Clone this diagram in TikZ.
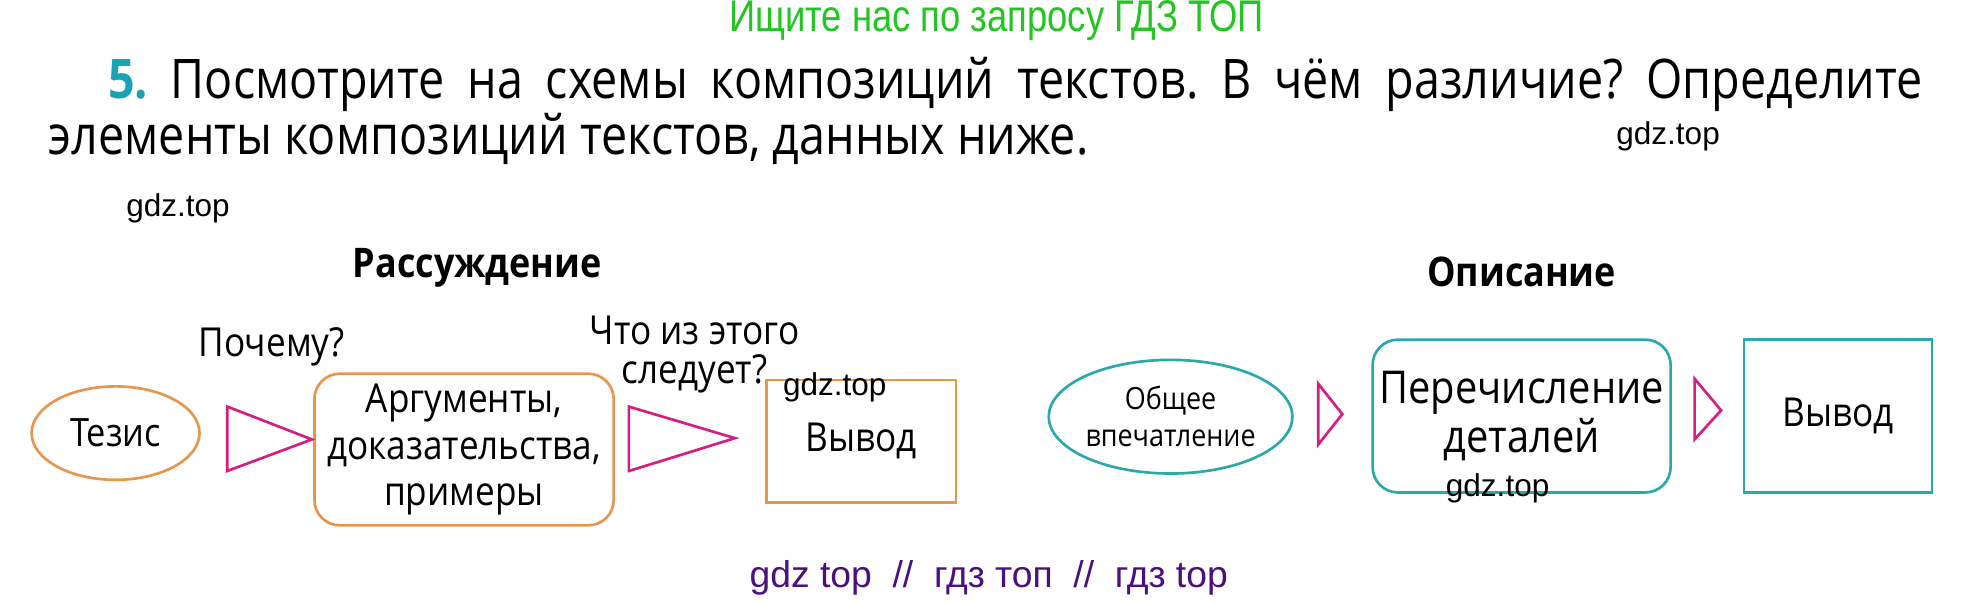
\documentclass[tikz,border=0pt]{standalone}
\usepackage{fontspec}
\setmainfont{Open Sans}[FakeStretch=0.88]
\newfontfamily\taskfont{Open Sans}[FakeStretch=0.855]
\newfontfamily\wmfont{Liberation Sans}
\newfontfamily\hdrfont{Liberation Sans}[FakeStretch=0.82]
\usetikzlibrary{shapes.geometric}

\definecolor{orng}{HTML}{E8964E}
\definecolor{mgnt}{HTML}{D41E82}
\definecolor{tealbox}{HTML}{2BA8AE}
\definecolor{tealnum}{HTML}{1AA2B4}
\definecolor{hdrgreen}{HTML}{22C522}
\definecolor{wmpurple}{HTML}{4B0F7F}

\begin{document}
\frenchspacing
\begin{tikzpicture}[x=0.1mm, y=-0.1mm,
    txt/.style={inner sep=0pt, font=\fontsize{9}{10.5}\selectfont, align=center},
    wm/.style={inner sep=0pt, font=\wmfont\fontsize{7.1}{8}\selectfont},
    heading/.style={inner sep=0pt, anchor=base, font=\bfseries\fontsize{9.2}{11}\selectfont},
    task/.style={inner sep=0pt, anchor=base west, font=\taskfont\fontsize{12.3}{15}\selectfont},
    oval/.style={ellipse, draw, line width=0.6pt, inner sep=0pt, align=center},
    roundbox/.style={rectangle, draw, rounded corners=2mm, line width=0.6pt, inner sep=0pt, align=center},
    sharpbox/.style={rectangle, draw, line width=0.6pt, inner sep=0pt, align=center},
    tri/.style={draw=mgnt, line width=0.6pt, line join=miter}]
    \useasboundingbox (0,0) rectangle (1568,477);

    % Header and task text
    \node[inner sep=0pt, text=hdrgreen, font=\hdrfont\fontsize{10}{12}\selectfont] (hdr) at (789,16) {Ищите нас по запросу ГДЗ ТОП};
    \node[task] (line1) at (85,78)
        {\makebox[14.37cm][s]{\textcolor{tealnum}{\bfseries 5.} Посмотрите на схемы композиций текстов. В чём различие? Определите}};
    \node[task] (line2) at (38,122) {элементы композиций текстов, данных ниже.};

    % Headings
    \node[heading] (hrass) at (378,220) {Рассуждение};
    \node[heading] (hopis) at (1205,227) {Описание};

    % Reasoning
    \node[oval, draw=orng, minimum width=13.3mm, minimum height=7.4mm, font=\fontsize{8.8}{10}\selectfont] (tezis) at (91.5,343) {Тезис};
    \node[txt] (why) at (215,275) {Почему?};
    \node[roundbox, draw=orng, minimum width=23.7mm, minimum height=12mm, font=\fontsize{9}{10.5}\selectfont] (args) at (367.5,356) {Аргументы,\\доказательства,\\примеры};
    \node[txt, font=\fontsize{9}{8.8}\selectfont] (follows) at (550,281) {Что из этого\\следует?};
    \node[sharpbox, draw=orng, minimum width=15mm, minimum height=9.7mm, font=\fontsize{9}{10.5}\selectfont] (vyvodA) at (682,349.5) {\raisebox{-1pt}{Вывод}};

    % Description
    \node[oval, draw=tealbox, minimum width=19.3mm, minimum height=9mm, font=\fontsize{6.9}{8.3}\selectfont] (obshee) at (927,330) {Общее\\впечатление};
    \node[roundbox, draw=tealbox, minimum width=23.6mm, minimum height=12.1mm, font=\fontsize{10.2}{11.1}\selectfont] (detali) at (1205,329.5) {Перечисление\\деталей};
    \node[sharpbox, draw=tealbox, minimum width=14.9mm, minimum height=12.1mm, font=\fontsize{9}{10.5}\selectfont] (vyvodB) at (1455.5,329.5) {Вывод};

    % Triangles between the steps
    \draw[tri] (180,322) -- (247,348) -- (180,373) -- cycle;
    \draw[tri] (498,322) -- (582,347) -- (498,373) -- cycle;
    \draw[tri] (1044,304) -- (1063,328) -- (1044,352) -- cycle;
    \draw[tri] (1342,300) -- (1363,325) -- (1342,348) -- cycle;

    % Watermarks
    \foreach \name/\x/\y in {wma/1321/108, wmb/141/165, wmc/661/307, wmd/1186/387}
        \node[wm] (\name) at (\x,\y) {gdz.top};
    \node[inner sep=0pt, text=wmpurple, font=\wmfont\fontsize{8.4}{10}\selectfont] (wmbottom) at (783,458) {gdz top\ \ //\ \ гдз топ\ \ //\ \ гдз top};
\end{tikzpicture}
\end{document}
